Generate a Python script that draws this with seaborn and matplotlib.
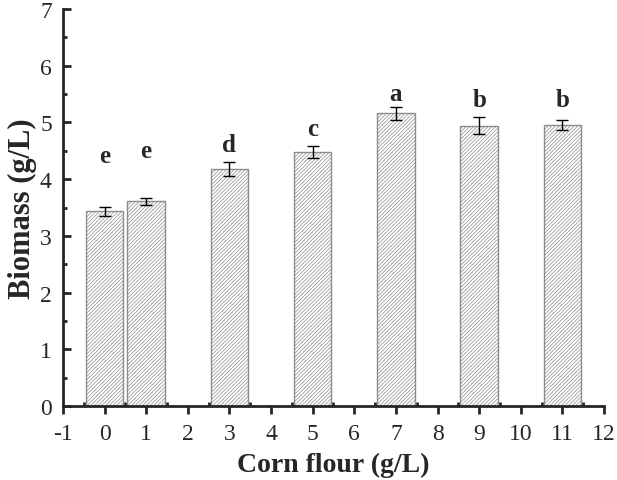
import matplotlib
matplotlib.use("Agg")
import matplotlib.pyplot as plt
from matplotlib.ticker import MultipleLocator
import pandas as pd
import seaborn as sns

sns.set_style("ticks")
plt.rcParams['font.family'] = ['Liberation Serif', 'DejaVu Serif']
plt.rcParams['axes.unicode_minus'] = False
plt.rcParams['hatch.linewidth'] = 0.5

# Data
corn_flour = [0, 1, 3, 5, 7, 9, 11]
biomass = [3.43, 3.61, 4.18, 4.48, 5.16, 4.94, 4.96]
biomass_err = [0.08, 0.06, 0.13, 0.10, 0.12, 0.15, 0.09]
letters = ['e', 'e', 'd', 'c', 'a', 'b', 'b']
letter_y = [4.42, 4.50, 4.62, 4.90, 5.52, 5.40, 5.40]

df = pd.DataFrame({"corn": corn_flour, "biomass": biomass})

fig = plt.figure(figsize=(6.17, 4.81), dpi=100, facecolor='white')
ax = fig.add_axes([0.102, 0.154, 0.877, 0.825])

sns.barplot(data=df, x="corn", y="biomass", native_scale=True, width=0.9,
            color='white', edgecolor='#8c8c8c', linewidth=1, hatch='/////////',
            errorbar=None, ax=ax)
ax.errorbar(corn_flour, biomass, yerr=biomass_err, fmt='none', ecolor='black',
            elinewidth=1, capsize=4, capthick=1)

for x, y, t in zip(corn_flour, letter_y, letters):
    ax.text(x, y, t, ha='center', va='center', fontsize=18, fontweight='bold')

ax.set_xlim(-1, 12)
ax.set_ylim(0, 7)
ax.xaxis.set_major_locator(MultipleLocator(1))
ax.xaxis.set_minor_locator(MultipleLocator(0.5))
ax.yaxis.set_major_locator(MultipleLocator(1))
ax.yaxis.set_minor_locator(MultipleLocator(0.5))
ax.tick_params(axis='x', which='major', direction='out', length=6, width=2,
               labelsize=17, pad=6)
ax.tick_params(axis='x', which='minor', direction='in', length=3, width=2)
ax.tick_params(axis='y', which='major', direction='in', length=6, width=2,
               labelsize=17, pad=8)
ax.tick_params(axis='y', which='minor', direction='in', length=3, width=2)
for s in ['top', 'right']:
    ax.spines[s].set_visible(False)
for s in ['left', 'bottom']:
    ax.spines[s].set_linewidth(2)

ax.set_xlabel("Corn flour (g/L)", fontsize=20, fontweight='bold', labelpad=6)
ax.set_ylabel("Biomass (g/L)", fontsize=22, fontweight='bold', labelpad=2)

fig.savefig("out.png", dpi=100)
